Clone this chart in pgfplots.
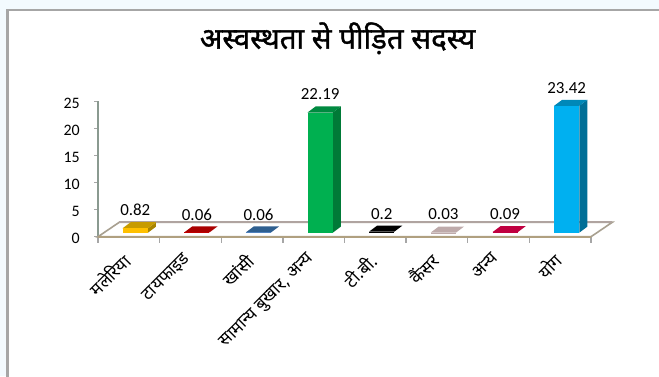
\documentclass[border=0pt]{standalone}
\usepackage{fontspec}
\usepackage{pgfplots}
\pgfplotsset{compat=1.18}
\setmainfont{Carlito}
\newfontfamily\dev[Script=Devanagari]{Noto Sans}
\newfontfamily\devb[Script=Devanagari,FakeBold=1.2]{Noto Sans}
\definecolor{outer}{HTML}{F3FAFE}
\definecolor{frame}{HTML}{A6A6A6}
\definecolor{floorA}{HTML}{A8A090}
\definecolor{floorB}{HTML}{B0A080}
\definecolor{floorC}{HTML}{B0A4A0}
\definecolor{yax}{HTML}{8A9A90}
\definecolor{yel}{HTML}{FFC000}
\definecolor{yelS}{HTML}{A88400}
\definecolor{yelT}{HTML}{C79B00}
\definecolor{red1}{HTML}{C00000}
\definecolor{red1T}{HTML}{AA0000}
\definecolor{blu}{HTML}{4F81BD}
\definecolor{bluT}{HTML}{2F5F8F}
\definecolor{gre}{HTML}{00B050}
\definecolor{greS}{HTML}{007A37}
\definecolor{greT}{HTML}{008A40}
\definecolor{gry}{HTML}{BEAAAA}
\definecolor{cri}{HTML}{C00040}
\definecolor{cya}{HTML}{00B0F0}
\definecolor{cyaS}{HTML}{006F97}
\definecolor{cyaT}{HTML}{0088B8}
\pgfplotsset{
  frontbar/.style={ybar, bar width=25bp, bar shift=0pt, draw=none, fill=#1, yshift=4bp, forget plot,
    point meta=explicit symbolic, nodes near coords,
    every node near coord/.append style={anchor=center, yshift=18bp, font=\fontsize{17}{17}\selectfont, text=black, inner sep=0pt}},
  face/.style={fill=#1, draw=none, forget plot, mark=none, line width=0pt}
}
\begin{document}
\begin{tikzpicture}[x=1bp,y=1bp]
\useasboundingbox (0,0) rectangle (659,376);
\fill[outer] (0,0) rectangle (659,376);
\fill[frame] (6,-1) rectangle (660,367);
\fill[white] (8.5,-1) rectangle (660,364.5);
\begin{axis}[
  /pgf/number format/assume math mode=true,
  at={(98bp,139.3bp)}, anchor=south west, scale only axis,
  width=493bp, height=135.4bp,
  xmin=-0.5, xmax=7.5, ymin=0, ymax=25,
  clip=false,
  axis x line=bottom, axis y line=left,
  x axis line style={-, draw=floorB, line width=2bp},
  y axis line style={-, draw=yax, line width=2.2bp},
  xtick={0,1,2,3,4,5,6,7},
  extra x ticks={-0.5,0.5,1.5,2.5,3.5,4.5,5.5,6.5,7.5},
  extra x tick labels={},
  extra x tick style={xtick style={draw=frame, line width=1.4bp}, major tick length=6bp},
  xticklabels={मलेरिया,टायफाइड,खांसी,{सामान्य बुखार, अन्य},टी.बी.,कैंसर,अन्य,योग},
  ytick={0,5,10,15,20,25},
  tick align=outside,
  xtick style={draw=none},
  major tick length=4bp,
  ytick style={draw=frame, line width=1.4bp},
  xticklabel style={rotate=45, anchor=north east, font=\dev\fontsize{17.5}{17.5}\selectfont, inner sep=0pt, yshift=-2.3bp, xshift=-13bp},
  yticklabel style={font=\fontsize{16}{16}\selectfont, inner sep=0pt, xshift=-14bp, yshift=-2bp},
  title={\devb अस्वस्थता से पीड़ित सदस्य},
  title style={at={(axis description cs:0.486,1)}, anchor=center, yshift=57bp, font=\fontsize{29.5}{29.5}\selectfont, inner sep=0pt},
]
% floor
\addplot[fill=white, draw=floorA, line width=1.6bp, forget plot, mark=none] coordinates {(-0.5,0)(-0.154,2.67)(7.846,2.67)(7.5,0)} --cycle;
\addplot[draw=floorC, line width=2.4bp, forget plot, mark=none] coordinates {(-0.154,2.67)(7.846,2.67)};
\addplot[draw=floorB, line width=2bp, forget plot, mark=none] coordinates {(-0.5,0)(7.5,0)};
% side and top faces
\addplot[face=yelS] coordinates {(0.31,0.74)(0.31,1.56)(0.44,2.67)(0.44,1.85)} --cycle;
\addplot[face=yelT] coordinates {(-0.1,1.56)(0.31,1.56)(0.44,2.67)(0.03,2.67)} --cycle;
\addplot[face=red1T] coordinates {(0.9,0.80)(1.31,0.80)(1.44,1.91)(1.03,1.91)} --cycle;
\addplot[face=bluT] coordinates {(1.9,0.80)(2.31,0.80)(2.44,1.91)(2.03,1.91)} --cycle;
\addplot[face=greS] coordinates {(3.31,0.74)(3.31,22.93)(3.44,24.04)(3.44,1.85)} --cycle;
\addplot[face=greT] coordinates {(2.9,22.93)(3.31,22.93)(3.44,24.04)(3.03,24.04)} --cycle;
\addplot[face=black] coordinates {(3.9,0.94)(4.31,0.94)(4.44,2.05)(4.03,2.05)} --cycle;
\addplot[face=gry] coordinates {(4.9,0.77)(5.31,0.77)(5.44,1.88)(5.03,1.88)} --cycle;
\addplot[face=cri] coordinates {(5.9,0.83)(6.31,0.83)(6.44,1.94)(6.03,1.94)} --cycle;
\addplot[face=cyaS] coordinates {(7.31,0.74)(7.31,24.16)(7.44,25.27)(7.44,1.85)} --cycle;
\addplot[face=cyaT] coordinates {(6.9,24.16)(7.31,24.16)(7.44,25.27)(7.03,25.27)} --cycle;
% front faces with the values
\addplot[frontbar=yel] coordinates {(0.105,0.82)[0.82]};
\addplot[frontbar=red1] coordinates {(1.105,0.06)[0.06]};
\addplot[frontbar=blu] coordinates {(2.105,0.06)[0.06]};
\addplot[frontbar=gre] coordinates {(3.105,22.19)[22.19]};
\addplot[frontbar=black] coordinates {(4.105,0.2)[0.2]};
\addplot[frontbar=gry] coordinates {(5.105,0.03)[0.03]};
\addplot[frontbar=cri] coordinates {(6.105,0.09)[0.09]};
\addplot[frontbar=cya] coordinates {(7.105,23.42)[23.42]};
\end{axis}
\end{tikzpicture}
\end{document}
